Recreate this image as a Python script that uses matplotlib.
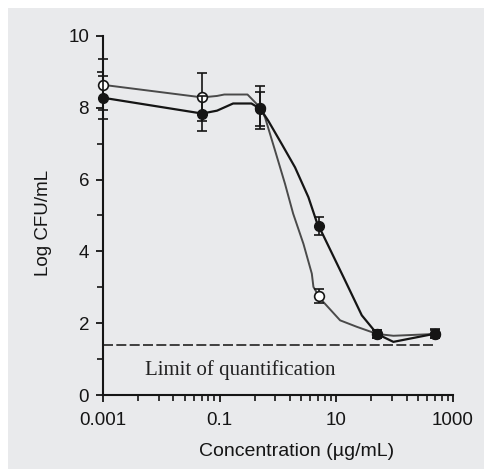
import numpy as np
import matplotlib
matplotlib.use('Agg')
import matplotlib.pyplot as plt
from matplotlib.patches import Rectangle
from matplotlib.ticker import FixedLocator, NullFormatter

# Datos medidos (concentracion en ug/mL, log CFU/mL)
conc = [0.001, 0.05, 0.5, 5, 50, 500]
abiertos = [8.64, 8.29, 8.0, 2.76, 1.70, 1.70]
abiertos_err = [0.71, 0.67, 0.6, 0.2, 0.12, 0.12]
llenos = [8.28, 7.84, 7.97, 4.70, 1.70, 1.71]
llenos_err = [0.6, 0.5, 0.47, 0.25, 0.12, 0.12]

# Curvas de ajuste
curva_abierta_x = [0.001, 0.05, 0.09, 0.12, 0.3, 0.5, 0.6, 0.89, 1.32, 1.82, 2.73, 3.8, 4.05,
                   5, 6, 11.6, 22.4, 50, 95, 500]
curva_abierta_y = [8.64, 8.29, 8.33, 8.37, 8.37, 8.0, 7.73, 6.81, 5.88, 5.05, 4.21, 3.38, 3.01,
                   2.76, 2.59, 2.08, 1.90, 1.70, 1.65, 1.70]
curva_llena_x = [0.001, 0.05, 0.09, 0.17, 0.35, 0.5, 0.68, 1.16, 1.96, 3.32, 4.63, 5, 6, 13.2,
                 27.3, 50, 95, 500]
curva_llena_y = [8.28, 7.84, 7.92, 8.12, 8.12, 7.97, 7.64, 6.99, 6.34, 5.51, 4.81, 4.70, 4.44, 3.29,
                 2.22, 1.70, 1.48, 1.71]

limite = 1.4
limite_x = [0.001, 500]

x_ticks = [0.001, 0.1, 10, 1000]
x_labels = ['0.001', '0.1', '10', '1000']

fig = plt.figure(figsize=(4.85, 4.69), dpi=100, facecolor='white')
# panel gris de fondo
fondo = Rectangle((8 / 485, 0), 1, 1 - 8 / 469, transform=fig.transFigure,
                  facecolor='#e9eaec', edgecolor='none', zorder=-10)
fig.add_artist(fondo)
ax = fig.add_axes([103 / 485, 1 - 395 / 469, 350 / 485, 359 / 469])
ax.set_facecolor('none')

ax.plot(limite_x, [limite, limite], color='#222222', lw=1.2, linestyle=(0, (6, 2)), clip_on=False)

ax.plot(curva_abierta_x, curva_abierta_y, color='#4a4a4a', lw=1.4, clip_on=False, zorder=3)
ax.plot(curva_llena_x, curva_llena_y, color='#151515', lw=1.6, clip_on=False, zorder=3)

ax.errorbar(conc, abiertos, yerr=abiertos_err, fmt='o', color='#151515', mfc='white', mec='#151515',
            mew=1.2, ms=7, elinewidth=1.2, capsize=3.5, capthick=1.2, clip_on=False, zorder=4)
ax.errorbar(conc, llenos, yerr=llenos_err, fmt='o', color='#151515', mfc='#151515', mec='#151515',
            ms=7, elinewidth=1.2, capsize=3.5, capthick=1.2, clip_on=False, zorder=5)

ax.text(0.0052, 0.7, 'Limit of quantification', family='Liberation Serif', fontsize=15,
        va='center', ha='left', color='#222222')

ax.set_xscale('log')
ax.set_xlim(0.001, 1000)
ax.set_ylim(0, 10)
ax.set_xticks(x_ticks)
ax.set_xticklabels(x_labels)
menores = [m * k ** 2 for m in x_ticks[:-1] for k in range(2, 10)]
ax.xaxis.set_minor_locator(FixedLocator(menores))
ax.xaxis.set_minor_formatter(NullFormatter())
ax.set_yticks([0, 2, 4, 6, 8, 10])
ax.set_yticks([1, 3, 5, 7, 9], minor=True)

for lado in ['top', 'right']:
    ax.spines[lado].set_visible(False)
for lado in ['left', 'bottom']:
    ax.spines[lado].set_linewidth(1.5)
    ax.spines[lado].set_color('#151515')

ax.tick_params(which='major', length=5, width=1.3, color='#151515', labelsize=13.5,
               labelcolor='#151515')
ax.tick_params(which='minor', length=4, width=1.2, color='#151515')
ax.tick_params(axis='x', which='major', pad=7)
ax.tick_params(axis='y', which='major', pad=5)
for t in ax.get_xticklabels() + ax.get_yticklabels():
    t.set_family('Liberation Sans')

ax.set_xlabel('Concentration (µg/mL)', family='Liberation Sans', fontsize=14, color='#151515')
ax.set_ylabel('Log CFU/mL', family='Liberation Sans', fontsize=13.5, color='#151515')
ax.xaxis.set_label_coords(0.554, -0.134)
ax.yaxis.set_label_coords(-0.147, 0.479)

fig.savefig('out.png', dpi=100)
